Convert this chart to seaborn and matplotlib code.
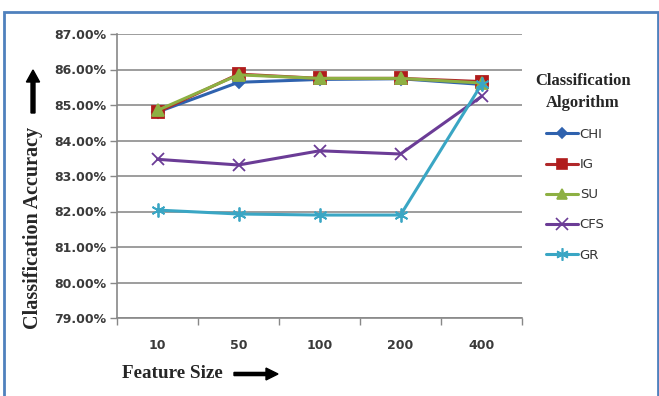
import matplotlib
matplotlib.use("Agg")
import matplotlib.pyplot as plt
import seaborn as sns
import pandas as pd
from matplotlib.patches import Rectangle, FancyArrow
from matplotlib.lines import Line2D

feature_sizes = ["10", "50", "100", "200", "400"]
chi = [84.80, 85.64, 85.72, 85.74, 85.58]
ig = [84.80, 85.87, 85.75, 85.75, 85.66]
su = [84.85, 85.85, 85.75, 85.75, 85.62]
cfs = [83.47, 83.31, 83.71, 83.62, 85.24]
gr = [82.04, 81.93, 81.90, 81.90, 85.58]
algorithms = ["CHI", "IG", "SU", "CFS", "GR"]
series = [chi, ig, su, cfs, gr]
y_ticks = [79, 80, 81, 82, 83, 84, 85, 86, 87]

sns.set_theme(style="white")
plt.rcParams['font.family'] = ['DejaVu Sans']

rows = []
for name, vals in zip(algorithms, series):
    for i, (fs, v) in enumerate(zip(feature_sizes, vals)):
        rows.append({"pos": i, "Feature Size": fs, "Accuracy": v, "Algorithm": name})
df = pd.DataFrame(rows)

line_colors = {"CHI": "#2F62AE", "IG": "#B0282A", "SU": "#8DB043", "CFS": "#6B3C96", "GR": "#3AA6C4"}
marker_face = {"CHI": "#2F62AE", "IG": "#B01C1C", "SU": "#8DB043", "CFS": "#6B3C96", "GR": "#3AA6C4"}
markers = {"CHI": "D", "IG": "s", "SU": "^", "CFS": "x", "GR": (6, 2, 0)}
msizes = {"CHI": 6, "IG": 8, "SU": 8, "CFS": 9, "GR": 10}

fig = plt.figure(figsize=(6.59, 3.96), dpi=100)
ax = fig.add_axes([117/659, 1-318/396, (522-117)/659, (318-34)/396])

for name in algorithms:
    sub = df[df["Algorithm"] == name]
    sns.lineplot(data=sub, x="pos", y="Accuracy", ax=ax, color=line_colors[name],
                 linewidth=2.2, marker=markers[name], markersize=msizes[name],
                 markerfacecolor=marker_face[name], markeredgecolor=marker_face[name],
                 markeredgewidth=1.3, legend=False, zorder=3)

ax.set_xlim(-0.5, len(feature_sizes) - 0.5)
ax.set_ylim(79, 87)
ax.set_yticks(y_ticks)
ax.set_yticklabels([f"{t:.2f}%" for t in y_ticks], fontsize=9, fontweight='bold', color='#3A3A3A')
ax.set_xticks(range(len(feature_sizes)))
ax.set_xticklabels(feature_sizes, fontsize=9, fontweight='bold', color='#3A3A3A')
ax.set_xticks([i - 0.5 for i in range(len(feature_sizes) + 1)], minor=True)
ax.tick_params(axis='x', which='major', length=0, pad=15)
ax.tick_params(axis='x', which='minor', length=5, color='#888888', width=1, direction='out', bottom=True)
ax.tick_params(axis='y', which='major', length=5, color='#888888', width=1, direction='out', left=True, pad=3)
ax.grid(axis='y', color='#8C8C8C', linewidth=1.2)
ax.grid(axis='x', visible=False)
ax.set_axisbelow(True)
for s in ['top', 'right']:
    ax.spines[s].set_visible(False)
for s in ['left', 'bottom']:
    ax.spines[s].set_color('#888888')
    ax.spines[s].set_linewidth(1.2)
ax.set_xlabel("")
ax.set_ylabel("")

serif = ['Liberation Serif', 'DejaVu Serif']
fig.text(33/659, 1-228/396, "Classification Accuracy", rotation=90, ha='center', va='center',
         fontsize=14.5, fontweight='bold', family=serif)
fig.text(122/659, 1-374/396, "Feature Size", ha='left', va='center',
         fontsize=13.8, fontweight='bold', family=serif)
# arrows
fig.add_artist(FancyArrow(234/659, 1-374/396, 44/659, 0, width=0.008, head_width=0.03,
                          head_length=12/659, length_includes_head=True, color='black',
                          transform=fig.transFigure))
fig.add_artist(FancyArrow(33/659, 1-113/396, 0, 43/396, width=0.006, head_width=0.02,
                          head_length=12/396, length_includes_head=True, color='black',
                          transform=fig.transFigure))

# legend
handles = [Line2D([0], [0], color=line_colors[n], lw=2.2, marker=markers[n],
                  markersize=msizes[n] * 0.9, markerfacecolor=marker_face[n],
                  markeredgecolor=marker_face[n], markeredgewidth=1.2) for n in algorithms]
leg = fig.legend(handles, algorithms, loc='upper left', bbox_to_anchor=(546/659, 1-128/396),
                 frameon=False, prop={'size': 9.5}, borderaxespad=0, borderpad=0,
                 handlelength=2.4, handletextpad=0.15, labelspacing=1.3)
for t in leg.get_texts():
    t.set_color('#333333')
fig.text(583/659, 1-92/396, "Classification\nAlgorithm", ha='center', va='center',
         multialignment='center', linespacing=1.45,
         fontsize=12, fontweight='bold', family=serif)

# blue frame
fig.add_artist(Rectangle((4/659, -0.01), 654/659, 1-12/396 + 0.01, transform=fig.transFigure,
                         fill=False, edgecolor='#4F81BD', linewidth=2))

fig.savefig("out.png", dpi=100)
